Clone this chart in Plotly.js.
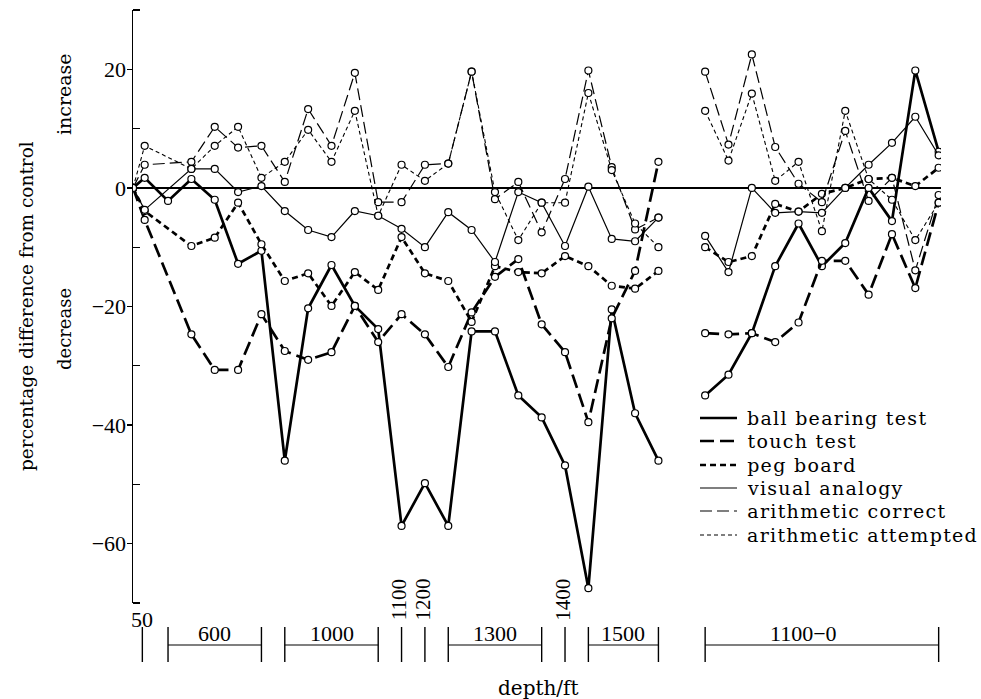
<!DOCTYPE html>
<html>
<head>
<meta charset="utf-8">
<script src="https://cdn.plot.ly/plotly-3.0.1.min.js"></script>
<style>html,body{margin:0;padding:0;background:#fff;}#chart{width:981px;height:699px;}</style>
</head>
<body>
<div id="chart"></div>
<script>
// ---- data (x = station position along the depth sequence; null = break between sections) ----
const seriesNames = ["ball bearing test","touch test","peg board","visual analogy","arithmetic correct","arithmetic attempted"];

const xBall   = [0,0.5,1.5,2.5,3.5,4.5,5.5,6.5,7.5,8.5,9.5,10.5,11.5,12.5,13.5,14.5,15.5,16.5,17.5,18.5,19.5,20.5,21.5,22.5,23.5,24.5,25.5,26.5,27.5,28.5,29.5,30.5,31.5,32.5,33.5,34.5];
const yBall   = [0,1.7,-2.2,1.5,-2.0,-12.8,-10.6,-46,-20.3,-13,-19.9,-23.8,-57,-49.8,-57,-24.2,-24.2,-35,-38.7,-46.8,-67.5,-20.5,-38,-46,null,-35,-31.5,-24.5,-13.2,-6,-13.2,-9.3,0,-5.6,19.8,6.1];

const xStd    = [0,0.5,2.5,3.5,4.5,5.5,6.5,7.5,8.5,9.5,10.5,11.5,12.5,13.5,14.5,15.5,16.5,17.5,18.5,19.5,20.5,21.5,22.5,23.5,24.5,25.5,26.5,27.5,28.5,29.5,30.5,31.5,32.5,33.5,34.5];
const yTouch  = [0,-5.4,-24.7,-30.7,-30.7,-21.3,-27.5,-29,-27.7,-19.9,-26,-21.3,-24.7,-30.2,-21,-15,-12,-23,-27.7,-39.5,-22,-14,4.4,null,-24.5,-24.7,-24.5,-26,-22.7,-12.3,-12.3,-18,-7.8,-16.9,-2.5];
const yPeg    = [0,-3.9,-9.8,-8.4,-2.5,-9.5,-15.7,-14.4,-19.9,-14.2,-17.2,-8.3,-14.4,-15.7,-22.6,-13.2,-14.2,-14.4,-11.5,-13.2,-16.5,-17,-14,null,-10,-12.5,-11.5,-2.7,-4,-1,0,1.5,1.7,0.3,3.4];
const yVisual = [0,-3.7,3.2,3.2,-0.7,0.3,-3.9,-7.1,-8.3,-3.9,-4.7,-6.9,-10,-4.1,-7.1,-12.5,-0.7,-2.5,-9.8,0.2,-8.6,-9,-5,null,-8.1,-14.2,0,-4.2,-4,-4.2,0,3.9,7.6,12,5.5];
const yCorrect= [0,3.9,4.4,10.3,6.8,7.1,1.0,13.3,7.1,19.4,-2.4,-2.4,3.9,4.1,19.6,-1.9,1,-7.5,1.5,19.8,3.5,-7,-5,null,19.6,7.3,22.5,6.9,0.7,-2.4,9.6,-2.2,1.7,-13.9,-1.2];
const yAttempt= [0,7.1,3.2,7.1,10.3,1.7,4.4,9.8,4.4,13,-4.7,3.9,1.2,4.1,19.6,-0.7,-8.8,-2.5,-2.5,16,3,-6,-10,null,13,4.6,15.9,1.2,4.4,-7.3,13,1.5,-2,-8.8,-2.5];

const yTickVals = [-60,-40,-20,0,20];
const yTickText = ["\u221260","\u221240","\u221220","0","20"];

// depth scale below the plot
const depthSingles = [{x:0.4,label:"50"},{x:11.5,label:"1100"},{x:12.5,label:"1200"},{x:18.5,label:"1400"}];
const depthRanges  = [{a:1.5,b:5.5,label:"600"},{a:6.5,b:10.5,label:"1000"},{a:13.5,b:17.5,label:"1300"},{a:19.5,b:22.5,label:"1500"},{a:24.5,b:34.5,label:"1100\u22120"}];

// ---- styles ----
const NUMFONT = "Liberation Serif, Times New Roman, serif";
const WORDFONT = "DejaVu Serif, serif";
const LEG_SPACING = 1.3;
const styles = [
  {width:2.7, dash:"solid"},
  {width:2.7, dash:"14px,6px"},
  {width:2.7, dash:"6px,4px"},
  {width:1.2, dash:"solid"},
  {width:1.2, dash:"12px,5px"},
  {width:1.1, dash:"4px,3px"}
];
const ys = [yBall,yTouch,yPeg,yVisual,yCorrect,yAttempt];
const xs = [xBall,xStd,xStd,xStd,xStd,xStd];

const traces = ys.map((y,i)=>({
  type:"scatter", mode:"lines+markers", name:seriesNames[i],
  x:xs[i], y:y, connectgaps:false, showlegend:false,
  line:{color:"black", width:styles[i].width, dash:styles[i].dash},
  marker:{symbol:"circle", size:7, color:"white", line:{color:"black", width:1.2}}
}));

// pixel helpers for the plot box (l=133, t=10, w=808, h=593)
const L=133, T=10, W=808, H=593;
const PX = p => (p-L)/W;
const PY = p => (T+H-p)/H;

const shapes = [];
const annotations = [];

// legend (drawn)
const legY = [418,441,465,488,511,535];
seriesNames.forEach((n,i)=>{
  shapes.push({type:"line", xref:"paper", yref:"paper", x0:PX(700), x1:PX(737), y0:PY(legY[i]), y1:PY(legY[i]),
    line:{color:"black", width:styles[i].width, dash:styles[i].dash}});
  annotations.push({xref:"paper", yref:"paper", x:PX(745 + n.length*LEG_SPACING/2), y:PY(legY[i]), text:n, showarrow:false,
    xanchor:"left", yanchor:"middle", font:{family:WORDFONT, size:19, color:"black"}});
});

// depth scale
const tickTop = PY(627), tickBot = PY(662), barY = PY(645);
depthSingles.forEach(d=>{
  shapes.push({type:"line", xref:"x", yref:"paper", x0:d.x, x1:d.x, y0:tickTop, y1:tickBot, line:{color:"black", width:1.4}});
  if (d.label==="50") {
    annotations.push({xref:"x", yref:"paper", x:d.x, y:PY(619), text:d.label, showarrow:false, xanchor:"center", yanchor:"middle",
      font:{family:NUMFONT, size:22, color:"black"}});
  } else {
    annotations.push({xref:"x", yref:"paper", x:d.x-0.1, y:PY(600), text:d.label, showarrow:false, textangle:-90, xanchor:"center", yanchor:"middle",
      font:{family:NUMFONT, size:21, color:"black"}});
  }
});
depthRanges.forEach(d=>{
  shapes.push({type:"line", xref:"x", yref:"paper", x0:d.a, x1:d.a, y0:tickTop, y1:tickBot, line:{color:"black", width:1.4}});
  shapes.push({type:"line", xref:"x", yref:"paper", x0:d.b, x1:d.b, y0:tickTop, y1:tickBot, line:{color:"black", width:1.4}});
  shapes.push({type:"line", xref:"x", yref:"paper", x0:d.a, x1:d.b, y0:barY, y1:barY, line:{color:"black", width:1.2}});
  const cx = d.label==="1100\u22120" ? d.a + (d.b-d.a)*0.42 : (d.a+d.b)/2;
  annotations.push({xref:"x", yref:"paper", x:cx, y:PY(633), text:d.label, showarrow:false, xanchor:"center", yanchor:"middle",
    font:{family:NUMFONT, size:22, color:"black"}});
});

// axis titles and side labels
annotations.push({xref:"paper", yref:"paper", x:PX(538), y:PY(688), text:"depth/ft", showarrow:false, xanchor:"center", yanchor:"middle",
  font:{family:WORDFONT, size:20, color:"black"}});
annotations.push({xref:"paper", yref:"paper", x:PX(26), y:PY(306), text:"percentage difference from control", showarrow:false, textangle:-90,
  xanchor:"center", yanchor:"middle", font:{family:WORDFONT, size:18.5, color:"black"}});
annotations.push({xref:"paper", yref:"paper", x:PX(64), y:PY(94), text:"increase", showarrow:false, textangle:-90,
  xanchor:"center", yanchor:"middle", font:{family:WORDFONT, size:19, color:"black"}});
annotations.push({xref:"paper", yref:"paper", x:PX(64), y:PY(329), text:"decrease", showarrow:false, textangle:-90,
  xanchor:"center", yanchor:"middle", font:{family:WORDFONT, size:18, color:"black"}});

const layout = {
  width:981, height:699,
  margin:{l:L, r:981-L-W, t:T, b:699-T-H, pad:0},
  paper_bgcolor:"white", plot_bgcolor:"white",
  showlegend:false,
  xaxis:{range:[0,34.6], visible:false, fixedrange:true},
  yaxis:{range:[-70,30], showgrid:false, showline:true, linecolor:"black", linewidth:1.5,
    zeroline:true, zerolinecolor:"black", zerolinewidth:1.5,
    tickmode:"array", tickvals:yTickVals, ticktext:yTickText, ticks:"outside", ticklen:5, tickwidth:1.4, tickcolor:"black",
    ticklabelstandoff:-4,
    minor:{tickmode:"array", tickvals:[-70,-50,-30,-10,10,30], ticks:"inside", ticklen:7, tickwidth:1.4, tickcolor:"black"},
    tickfont:{family:NUMFONT, size:22, color:"black"}, fixedrange:true},
  shapes:shapes,
  annotations:annotations
};

Plotly.newPlot("chart", traces, layout, {staticPlot:true, displayModeBar:false}).then(gd=>{
  gd.querySelectorAll(".annotation-text").forEach(t=>{
    if (seriesNames.indexOf(t.textContent)>=0) t.style.letterSpacing = LEG_SPACING + "px";
  });
});
</script>
</body>
</html>
